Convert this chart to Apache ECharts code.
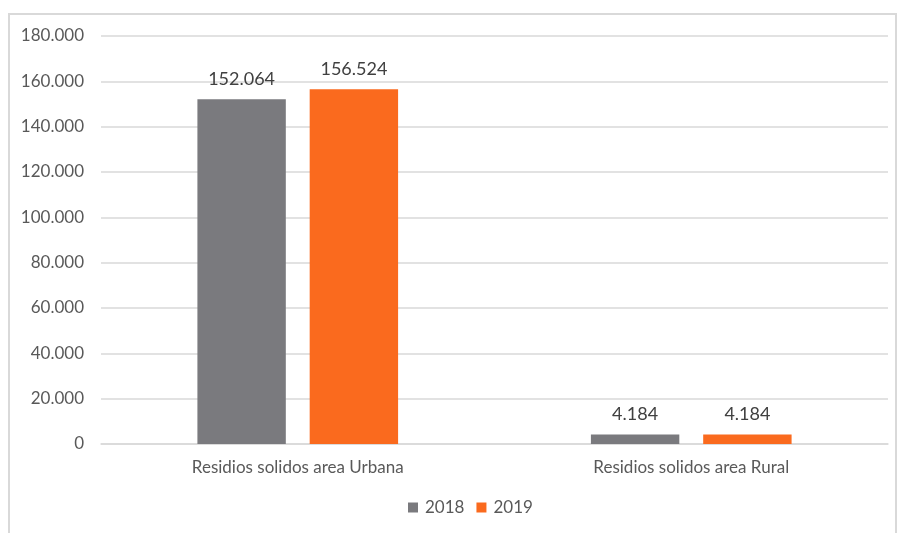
<!DOCTYPE html>
<html><head><meta charset="utf-8">
<script src="https://cdn.jsdelivr.net/npm/echarts@6/dist/echarts.min.js"></script>
<style>html,body{margin:0;padding:0;background:#fff}
#frame{position:absolute;left:8px;top:13px;width:889px;height:530px;border:2px solid #d9d9d9;box-sizing:border-box}
#c{position:absolute;left:0;top:0;width:899px;height:533px}</style>
</head><body><div id="frame"></div><div id="c"></div>
<script>
const categories = ['Residios solidos area Urbana', 'Residios solidos area Rural'];
const seriesNames = ['2018', '2019'];
const values2018 = [152064, 4184];
const values2019 = [156524, 4184];
const colors = ['#7a7a7e', '#fa6a1e'];

function fmt(v){ return String(Math.round(v)).replace(/\B(?=(\d{3})+(?!\d))/g, '.'); }
const font = 'Lato, "Open Sans", sans-serif';
const chart = echarts.init(document.getElementById('c'));
const mk = (name, data, color) => ({
  name, type: 'bar', data, barGap: '27%', barCategoryGap: '49%',
  itemStyle: { color },
  label: { show: true, position: 'top', distance: 11, color: '#404040', fontSize: 18, fontFamily: font, formatter: p => fmt(p.value) }
});
chart.setOption({
  animation: false,
  grid: { left: 101, right: 11, top: 36, bottom: 89, containLabel: false },
  legend: { bottom: 12, left: 403, itemWidth: 10, itemHeight: 10, itemGap: 12, icon: 'rect',
    textStyle: { color: '#595959', fontSize: 17, fontFamily: font, padding: [0, 0, 0, 2] } },
  xAxis: { type: 'category', data: categories,
    axisLine: { lineStyle: { color: '#d9d9d9', width: 1.5 } }, axisTick: { show: false },
    axisLabel: { color: '#595959', fontSize: 17, fontFamily: font, margin: 15 } },
  yAxis: { type: 'value', min: 0, max: 180000, interval: 20000,
    axisLine: { show: false }, axisTick: { show: false },
    splitLine: { lineStyle: { color: '#d9d9d9', width: 1.5 } },
    axisLabel: { color: '#595959', fontSize: 17, fontFamily: font, margin: 17, formatter: v => fmt(v) } },
  series: [mk(seriesNames[0], values2018, colors[0]), mk(seriesNames[1], values2019, colors[1])]
});
</script></body></html>
